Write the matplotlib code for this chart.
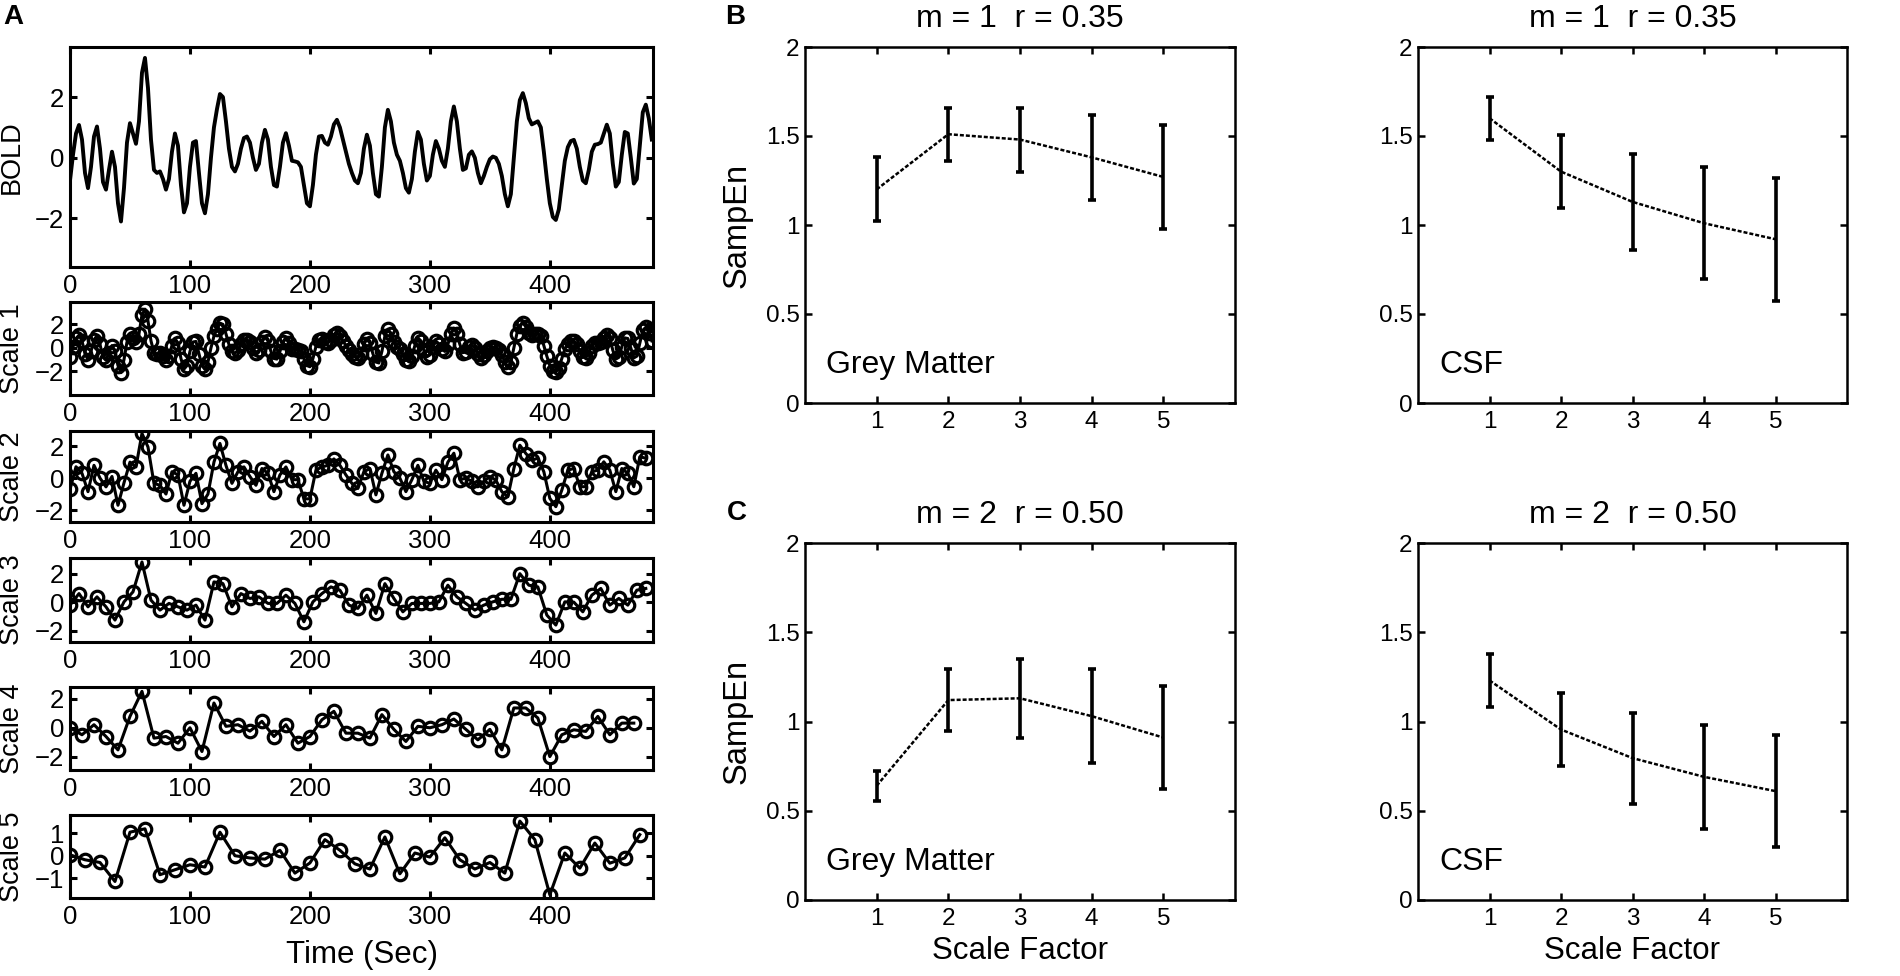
import numpy as np
import matplotlib
matplotlib.use("Agg")
import matplotlib.pyplot as plt
from matplotlib.ticker import FormatStrFormatter

plt.rcParams['font.family'] = ['Liberation Sans', 'DejaVu Sans']

# ---- panel A: BOLD signal (TR = 2.5 s) and its coarse-grained versions ----
tr = 2.5
bold = [-0.75, 0.1, 0.8, 1.08, 0.6, -0.5, -1.0, -0.3, 0.7, 1.03,
        0.3, -0.8, -1.05, -0.4, 0.2, -0.3, -1.5, -2.1, -1.0, 0.5,
        1.14, 0.8, 0.46, 1.2, 2.8, 3.29, 2.3, 0.6, -0.4, -0.5,
        -0.45, -0.7, -1.05, -0.7, 0.2, 0.8, 0.4, -0.9, -1.8, -1.5,
        -0.3, 0.5, 0.55, -0.5, -1.5, -1.83, -1.2, 0.0, 1.0, 1.6,
        2.1, 2.0, 1.2, 0.3, -0.3, -0.45, -0.2, 0.3, 0.65, 0.7,
        0.5, 0.0, -0.4, -0.2, 0.5, 0.92, 0.6, -0.3, -0.9, -0.95,
        -0.3, 0.5, 0.81, 0.4, -0.1, -0.12, -0.15, -0.3, -0.9, -1.5,
        -1.6, -0.9, 0.1, 0.7, 0.72, 0.5, 0.43, 0.7, 1.1, 1.25,
        1.0, 0.6, 0.2, -0.2, -0.5, -0.75, -0.84, -0.5, 0.3, 0.76,
        0.4, -0.5, -1.2, -1.28, -0.3, 1.0, 1.58, 1.2, 0.5, 0.1,
        -0.1, -0.5, -1.0, -1.15, -0.7, 0.2, 0.85, 0.6, -0.2, -0.75,
        -0.6, 0.1, 0.55, 0.3, -0.1, -0.3, 0.3, 1.2, 1.69, 1.2,
        0.3, -0.4, -0.35, 0.1, 0.21, 0.0, -0.5, -0.84, -0.6, -0.3,
        -0.05, 0.04, 0.0, -0.2, -0.6, -1.2, -1.6, -1.2, 0.0, 1.2,
        1.9, 2.13, 1.8, 1.3, 1.1, 1.15, 1.2, 1.0, 0.2, -0.7,
        -1.5, -1.95, -2.05, -1.7, -0.9, -0.1, 0.35, 0.55, 0.59, 0.3,
        -0.3, -0.75, -0.84, -0.4, 0.2, 0.43, 0.45, 0.5, 0.8, 1.09,
        0.8, -0.2, -0.95, -0.8, 0.1, 0.85, 0.8, 0.0, -0.85, -0.7,
        0.4, 1.5, 1.75, 1.3, 0.6]

scale2 = [-0.71, 0.71, 0.3, -0.85, 0.8, 0.0, -0.55, 0.1, -1.7, -0.3,
          1.0, 0.7, 2.8, 1.95, -0.33, -0.45, -1.0, 0.4, 0.2, -1.7,
          -0.2, 0.3, -1.6, -1.0, 1.0, 2.17, 0.8, -0.33, 0.4, 0.7,
          0.1, -0.45, 0.6, 0.3, -0.85, 0.2, 0.7, -0.1, -0.1, -1.3,
          -1.3, 0.5, 0.7, 0.8, 1.2, 0.8, 0.2, -0.33, -0.65, 0.4,
          0.6, -1.05, 0.3, 1.45, 0.4, 0.0, -0.85, -0.1, 0.8, -0.2,
          -0.33, 0.5, -0.1, 1.0, 1.56, -0.1, 0.0, -0.2, -0.55, -0.2,
          0.1, -0.13, -0.85, -1.17, 0.6, 2.06, 1.54, 1.12, 1.25, 0.4,
          -1.27, -1.79, -0.75, 0.5, 0.6, -0.54, -0.54, 0.4, 0.5, 1.02,
          0.5, -0.85, 0.6, 0.3, -0.54, 1.33, 1.25]

scale3 = [-0.21, 0.6, -0.33, 0.37, -0.33, -1.26, 0.02, 0.72, 2.82, 0.14,
          -0.56, -0.09, -0.33, -0.56, -0.21, -1.26, 1.42, 1.3, -0.33, 0.6,
          0.26, 0.37, -0.09, -0.09, 0.49, -0.09, -1.38, 0.02, 0.6, 1.07,
          0.84, -0.21, -0.44, 0.49, -0.79, 1.3, 0.26, -0.68, -0.09, -0.09,
          -0.09, 0.02, 1.19, 0.37, -0.09, -0.56, -0.21, 0.02, 0.2, 0.2,
          2.0, 1.19, 1.07, -0.91, -1.61, 0.02, 0.0, -0.68, 0.49, 0.96,
          -0.21, 0.26, -0.21, 0.84, 0.96]

scale4 = [0.0, -0.48, 0.21, -0.6, -1.52, 0.78, 2.5, -0.71, -0.6, -1.06,
          0.0, -1.63, 1.7, 0.1, 0.21, -0.23, 0.44, -0.6, 0.21, -1.06,
          -0.6, 0.55, 1.13, -0.37, -0.37, -0.71, 0.9, -0.11, -0.94, 0.1,
          0.0, 0.21, 0.6, -0.11, -0.83, -0.11, -1.52, 1.36, 1.36, 0.67,
          -1.98, -0.48, -0.14, -0.25, 0.78, -0.48, 0.32, 0.32]

scale5 = [0.04, -0.18, -0.3, -1.14, 1.04, 1.19, -0.84, -0.62, -0.4, -0.5,
          1.04, 0.0, -0.1, -0.15, 0.24, -0.77, -0.32, 0.71, 0.24, -0.36,
          -0.59, 0.83, -0.8, 0.12, -0.06, 0.79, -0.18, -0.59, -0.3, -0.77,
          1.53, 0.71, -1.73, 0.12, -0.55, 0.56, -0.33, -0.1, 0.93]

# ---- panels B / C: sample entropy vs scale factor (mean, error) ----
scale_factor = [1, 2, 3, 4, 5]
gm_m1 = [1.20, 1.51, 1.48, 1.38, 1.27]
gm_m1_err = [0.18, 0.15, 0.18, 0.24, 0.29]
csf_m1 = [1.60, 1.30, 1.13, 1.01, 0.92]
csf_m1_err = [0.12, 0.205, 0.27, 0.315, 0.345]
gm_m2 = [0.64, 1.12, 1.13, 1.03, 0.91]
gm_m2_err = [0.085, 0.175, 0.22, 0.265, 0.29]
csf_m2 = [1.23, 0.955, 0.795, 0.69, 0.61]
csf_m2_err = [0.15, 0.205, 0.255, 0.29, 0.315]

W, H = 1900, 976
fig = plt.figure(figsize=(W / 100, H / 100), dpi=100)


def box(left, top, right, bottom):
    return [left / W, 1 - bottom / H, (right - left) / W, (bottom - top) / H]


def style(ax, lw, xpad, ypad, size):
    ax.tick_params(direction='in', top=True, right=True, length=5, width=lw,
                   labelsize=size)
    ax.tick_params(axis='x', pad=xpad)
    ax.tick_params(axis='y', pad=ypad)
    for s in ax.spines.values():
        s.set_linewidth(lw)


# panel A
series = [bold, bold, scale2, scale3, scale4, scale5]
factors = [1, 1, 2, 3, 4, 5]
labels = ['BOLD', 'Scale 1', 'Scale 2', 'Scale 3', 'Scale 4', 'Scale 5']
rows = [(47, 267), (302, 395), (431, 522), (558, 642), (687, 770), (815, 898)]
ylims = [(-3.6, 3.65), (-4.0, 3.9), (-2.75, 2.95), (-2.8, 3.1), (-2.9, 2.8), (-1.87, 1.8)]
yticks = [[-2, 0, 2]] * 5 + [[-1, 0, 1]]

for i in range(6):
    ax = fig.add_axes(box(70, rows[i][0], 653, rows[i][1]))
    y = series[i]
    t = np.arange(len(y)) * tr * factors[i]
    if i == 0:
        ax.plot(t, y, 'k-', lw=2.8, solid_joinstyle='round')
    else:
        ax.plot(t, y, 'k-', lw=2.2, marker='o', ms=9, mfc='none', mec='k', mew=2.3)
    ax.set_xlim(0, 486)
    ax.set_ylim(*ylims[i])
    ax.set_xticks([0, 100, 200, 300, 400])
    ax.set_yticks(yticks[i])
    style(ax, 2.2, 5, 4, 18.5)
    ax.set_ylabel(labels[i], fontsize=19.5)
    ax.yaxis.set_label_coords(-0.077, 0.5)
    if i == 5:
        ax.set_xlabel('Time (Sec)', fontsize=22.5)
        ax.xaxis.set_label_coords(0.5, -0.5)

# panels B and C
panels = [
    ((805, 47, 1235, 403), gm_m1, gm_m1_err, 'm = 1  r = 0.35', 'Grey Matter', True, False),
    ((1418, 47, 1847, 403), csf_m1, csf_m1_err, 'm = 1  r = 0.35', 'CSF', False, False),
    ((805, 543, 1235, 900), gm_m2, gm_m2_err, 'm = 2  r = 0.50', 'Grey Matter', True, True),
    ((1418, 543, 1847, 900), csf_m2, csf_m2_err, 'm = 2  r = 0.50', 'CSF', False, True),
]
for pos, mean, err, title, region, left, bottom in panels:
    ax = fig.add_axes(box(*pos))
    ax.plot(scale_factor, mean, color='k', ls=(0, (1.6, 0.8)), lw=1.8)
    ax.errorbar(scale_factor, mean, yerr=err, fmt='none', ecolor='k',
                elinewidth=2.6, capsize=3.2, capthick=2.6)
    ax.set_xlim(0, 6)
    ax.set_ylim(0, 2)
    ax.set_xticks(scale_factor)
    ax.set_yticks([0, 0.5, 1, 1.5, 2])
    ax.yaxis.set_major_formatter(FormatStrFormatter('%g'))
    style(ax, 1.8, 6, 4, 17.5)
    ax.text(0.5, 1.055, title, transform=ax.transAxes, ha='center',
            va='baseline', fontsize=23)
    ax.text(0.3, 0.17, region, fontsize=23, va='baseline')
    if left:
        ax.set_ylabel('SampEn', fontsize=23.5)
        ax.yaxis.set_label_coords(-0.121, 0.5)
    if bottom:
        ax.set_xlabel('Scale Factor', fontsize=22.5)
        ax.xaxis.set_label_coords(0.5, -0.1)

fig.text(3 / W, 1 - 4 / H, 'A', fontsize=20, fontweight='bold', va='top')
fig.text(725 / W, 1 - 4 / H, 'B', fontsize=20, fontweight='bold', va='top')
fig.text(727 / W, 1 - 500 / H, 'C', fontsize=20, fontweight='bold', va='top')

fig.savefig('out.png', dpi=100, facecolor='white')
